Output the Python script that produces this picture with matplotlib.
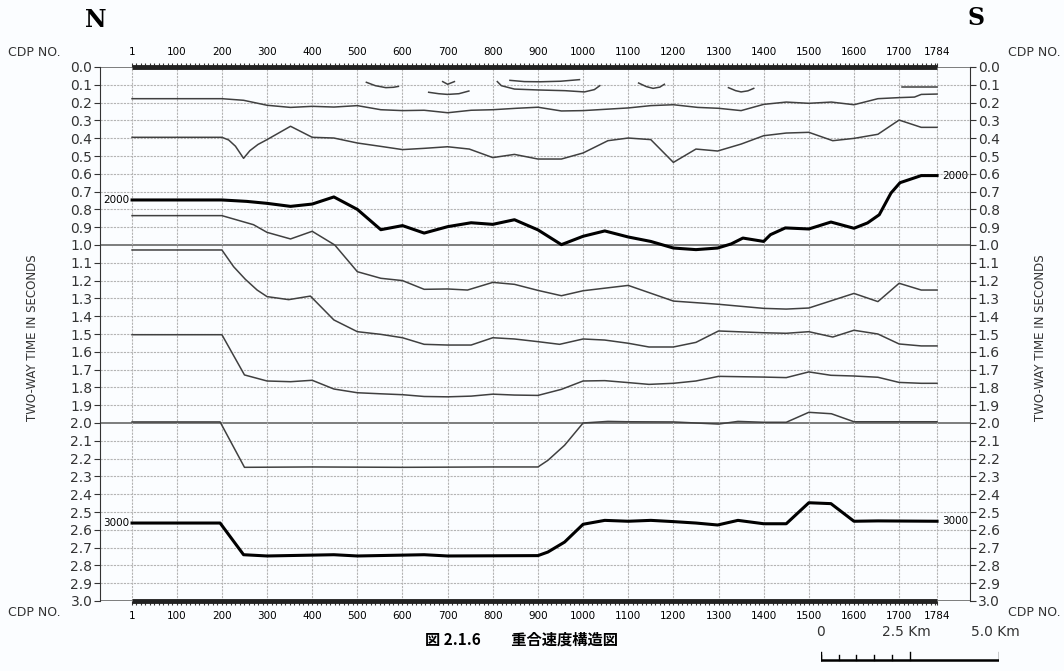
import matplotlib
matplotlib.use("Agg")
import matplotlib.pyplot as plt
import numpy as np

plt.rcParams['font.family'] = ['DejaVu Sans', 'Noto Sans CJK JP']

# horizons: CDP number and two-way time (s)
h1_cdp = [1, 200, 248, 300, 352, 400, 448, 500, 552, 600, 648, 700, 752, 800, 852, 900, 952, 1000,
          1100, 1150, 1200, 1254, 1300, 1350, 1400, 1450, 1500, 1550, 1600, 1653, 1700, 1734, 1749, 1784]
h1_t = [0.178, 0.178, 0.187, 0.215, 0.227, 0.221, 0.225, 0.217, 0.240, 0.245, 0.243, 0.257, 0.243, 0.240,
        0.232, 0.226, 0.247, 0.245, 0.230, 0.217, 0.212, 0.227, 0.232, 0.245, 0.210, 0.197, 0.204, 0.197,
        0.212, 0.178, 0.172, 0.169, 0.154, 0.152]

h2_cdp = [1, 200, 215, 230, 248, 262, 280, 300, 352, 400, 448, 500, 552, 600, 648, 700, 748, 800, 848,
          900, 952, 1000, 1055, 1100, 1150, 1200, 1250, 1298, 1350, 1400, 1450, 1500, 1553, 1600, 1653,
          1700, 1749, 1784]
h2_t = [0.395, 0.395, 0.41, 0.445, 0.513, 0.47, 0.435, 0.408, 0.333, 0.395, 0.399, 0.427, 0.446, 0.464,
        0.457, 0.448, 0.461, 0.509, 0.491, 0.517, 0.517, 0.483, 0.414, 0.399, 0.408, 0.536, 0.461, 0.472,
        0.433, 0.386, 0.371, 0.367, 0.414, 0.401, 0.378, 0.298, 0.339, 0.339]

v2000_cdp = [1, 200, 255, 300, 352, 400, 448, 500, 552, 600, 648, 700, 752, 800, 848, 900, 952, 1000,
             1048, 1100, 1150, 1200, 1250, 1298, 1328, 1354, 1400, 1415, 1448, 1500, 1549, 1600, 1630,
             1656, 1682, 1702, 1749, 1784]
v2000_t = [0.747, 0.747, 0.755, 0.766, 0.783, 0.770, 0.730, 0.800, 0.914, 0.891, 0.933, 0.897, 0.875,
           0.884, 0.858, 0.915, 0.998, 0.951, 0.921, 0.955, 0.980, 1.017, 1.026, 1.017, 0.994, 0.961,
           0.980, 0.942, 0.904, 0.910, 0.871, 0.906, 0.876, 0.830, 0.708, 0.650, 0.610, 0.610]

h4_cdp = [1, 200, 270, 300, 352, 400, 450, 500, 552, 600, 648, 700, 744, 800, 848, 900, 952, 1000,
          1100, 1200, 1300, 1400, 1450, 1500, 1600, 1653, 1700, 1749, 1784]
h4_t = [0.835, 0.835, 0.886, 0.929, 0.966, 0.923, 1.0, 1.15, 1.187, 1.2, 1.249, 1.247, 1.253, 1.21,
        1.221, 1.255, 1.285, 1.257, 1.227, 1.315, 1.333, 1.356, 1.36, 1.354, 1.272, 1.318, 1.215, 1.253,
        1.253]

h5_cdp = [1, 200, 226, 252, 278, 300, 348, 396, 448, 500, 552, 600, 648, 700, 752, 800, 848, 900, 948,
          1000, 1048, 1100, 1146, 1200, 1250, 1300, 1400, 1450, 1500, 1553, 1600, 1653, 1700, 1749, 1784]
h5_t = [1.028, 1.028, 1.122, 1.193, 1.253, 1.29, 1.307, 1.287, 1.421, 1.487, 1.502, 1.521, 1.558,
        1.562, 1.562, 1.521, 1.528, 1.543, 1.558, 1.528, 1.534, 1.552, 1.573, 1.573, 1.547, 1.483,
        1.493, 1.496, 1.487, 1.517, 1.479, 1.5, 1.556, 1.567, 1.567]

h6_cdp = [1, 200, 250, 300, 352, 400, 448, 500, 552, 600, 648, 700, 752, 800, 848, 900, 952, 1000,
          1048, 1100, 1146, 1200, 1250, 1300, 1400, 1450, 1500, 1549, 1600, 1653, 1700, 1749, 1784]
h6_t = [1.504, 1.504, 1.73, 1.764, 1.768, 1.76, 1.809, 1.83, 1.836, 1.841, 1.851, 1.853, 1.849, 1.838,
        1.843, 1.845, 1.811, 1.764, 1.762, 1.773, 1.783, 1.777, 1.764, 1.738, 1.742, 1.745, 1.713,
        1.732, 1.736, 1.743, 1.772, 1.777, 1.777]

h7_cdp = [1, 196, 250, 400, 600, 800, 900, 922, 959, 1000, 1055, 1100, 1200, 1300, 1343, 1400, 1450,
          1500, 1550, 1600, 1700, 1784]
h7_t = [1.994, 1.994, 2.249, 2.247, 2.249, 2.247, 2.247, 2.21, 2.125, 2.0, 1.991, 1.993, 1.994, 2.006,
        1.991, 1.996, 1.996, 1.94, 1.948, 1.993, 1.993, 1.993]

v3000_cdp = [1, 196, 248, 300, 448, 500, 648, 700, 900, 922, 959, 1000, 1048, 1100, 1150, 1200, 1250,
             1298, 1343, 1400, 1450, 1500, 1549, 1600, 1653, 1784]
v3000_t = [2.562, 2.562, 2.74, 2.747, 2.74, 2.747, 2.74, 2.747, 2.745, 2.725, 2.669, 2.569, 2.547,
           2.552, 2.547, 2.554, 2.562, 2.573, 2.547, 2.566, 2.566, 2.448, 2.453, 2.552, 2.55, 2.552]

# short reflector segments near the surface
seg_cdp = [[520, 540, 563, 580, 591], [689, 700, 715], [658, 680, 700, 725, 747],
           [810, 819, 848, 900, 960, 1003, 1025, 1037], [838, 870, 905, 950, 992],
           [1123, 1140, 1155, 1170, 1180], [1322, 1338, 1350, 1365, 1378], [1706, 1784]]
seg_t = [[0.086, 0.105, 0.116, 0.114, 0.109], [0.082, 0.097, 0.082], [0.142, 0.150, 0.154, 0.150, 0.135],
         [0.082, 0.105, 0.124, 0.129, 0.133, 0.140, 0.127, 0.105], [0.075, 0.082, 0.083, 0.080, 0.071],
         [0.090, 0.110, 0.120, 0.113, 0.097], [0.116, 0.133, 0.140, 0.134, 0.120], [0.114, 0.114]]

cdp_ticks = [1, 100, 200, 300, 400, 500, 600, 700, 800, 900, 1000, 1100, 1200, 1300, 1400, 1500, 1600,
             1700, 1784]
time_ticks = np.round(np.arange(0, 3.01, 0.1), 1)
scale_km = [0, 2.5, 5.0]

fig = plt.figure(figsize=(10.64, 6.71), dpi=100)
fig.patch.set_facecolor('#fbfdff')
ax = fig.add_axes([100 / 1064, 1 - 601 / 671, 870 / 1064, 534 / 671])
ax.set_facecolor('#fbfdff')
ax.set_xlim(-70, 1857)
ax.set_ylim(3.0, 0.0)

# grid
for t in time_ticks:
    if t in (0.0, 1.0, 2.0, 3.0):
        ax.axhline(t, color='#5a5a5a', lw=1.1, zorder=1)
    else:
        ax.axhline(t, color='#b4b4b4', lw=0.8, ls=(0, (2, 1)), zorder=1)
for c in cdp_ticks:
    ax.axvline(c, color='#b4b4b4', lw=0.8, ls=(0, (2, 1)), zorder=1)

thin = dict(color='#404040', lw=1.1, zorder=3)
thick = dict(color='black', lw=2.2, zorder=4)
ax.plot(h1_cdp, h1_t, **thin)
ax.plot(h2_cdp, h2_t, **thin)
ax.plot(v2000_cdp, v2000_t, **thick)
ax.plot(h4_cdp, h4_t, **thin)
ax.plot(h5_cdp, h5_t, **thin)
ax.plot(h6_cdp, h6_t, **thin)
ax.plot(h7_cdp, h7_t, **thin)
ax.plot(v3000_cdp, v3000_t, **thick)
for xs, ts in zip(seg_cdp, seg_t):
    ax.plot(xs, ts, **thin)

# thick CDP bars
ax.plot([1, 1784], [0, 0], color='#222222', lw=3.5, solid_capstyle='butt', clip_on=False, zorder=5)
ax.plot([1, 1784], [3, 3], color='#222222', lw=3.5, solid_capstyle='butt', clip_on=False, zorder=5)

ax.text(-5, v2000_t[0], '2000', ha='right', va='center', fontsize=7.5,
        bbox=dict(fc='#fbfdff', ec='none', pad=0.5), zorder=6)
ax.text(1795, v2000_t[-1], '2000', ha='left', va='center', fontsize=7.5, zorder=6)
ax.text(-5, v3000_t[0], '3000', ha='right', va='center', fontsize=7.5,
        bbox=dict(fc='#fbfdff', ec='none', pad=0.5), zorder=6)
ax.text(1795, v3000_t[-1], '3000', ha='left', va='center', fontsize=7.5, zorder=6)

# axes / ticks
for s in ('top', 'bottom'):
    ax.spines[s].set_visible(False)
ax.spines['left'].set_color('#333333')
ax.spines['right'].set_color('#333333')
ax.set_xticks(cdp_ticks)
ax.set_xticklabels([str(c) for c in cdp_ticks])
ax.set_xticks(np.arange(10, 1784, 10), minor=True)
ax.tick_params(axis='x', which='both', top=True, bottom=True, labeltop=True, labelbottom=True,
               direction='out', length=3, width=0.8, color='#333333', labelsize=7.5, pad=4)
ax.set_yticks(time_ticks)
ax.set_yticklabels([f'{t:.1f}' for t in time_ticks])
ax.tick_params(axis='y', left=True, right=True, labelleft=True, labelright=True,
               direction='out', length=4, width=0.8, labelsize=10, pad=1.5, colors='#333333')

fig.text(8 / 1064, 1 - 52 / 671, 'CDP NO.', fontsize=9, va='center', ha='left', color='#333333')
fig.text(1008 / 1064, 1 - 52 / 671, 'CDP NO.', fontsize=9, va='center', ha='left', color='#333333')
fig.text(8 / 1064, 1 - 613 / 671, 'CDP NO.', fontsize=9, va='center', ha='left', color='#333333')
fig.text(1008 / 1064, 1 - 613 / 671, 'CDP NO.', fontsize=9, va='center', ha='left', color='#333333')
fig.text(33 / 1064, 1 - 338 / 671, 'TWO-WAY TIME IN SECONDS', rotation=90, fontsize=8.5,
         ha='center', va='center', color='#333333')
fig.text(1040 / 1064, 1 - 338 / 671, 'TWO-WAY TIME IN SECONDS', rotation=90, fontsize=8.5,
         ha='center', va='center', color='#333333')

fig.text(96 / 1064, 1 - 20 / 671, 'N', family='DejaVu Serif', fontsize=17, fontweight='bold',
         ha='center', va='center')
fig.text(976 / 1064, 1 - 18 / 671, 'S', family='DejaVu Serif', fontsize=17, fontweight='bold',
         ha='center', va='center')

fig.text(425 / 1064, 1 - 640 / 671, '図 2.1.6　　重合速度構造図', family=['Noto Sans CJK JP'],
         fontsize=11, fontweight='bold', ha='left', va='center')

# scale bar
sax = fig.add_axes([820.7 / 1064, 1 - 668 / 671, 178.3 / 1064, 40 / 671])
sax.set_xlim(0, 5)
sax.set_ylim(0, 1)
sax.axis('off')
sax.plot([0, 5], [0.2, 0.2], color='black', lw=1.8)
for k in np.arange(0, 2.5, 0.5):
    sax.plot([k, k], [0.2, 0.32], color='black', lw=1)
for k in scale_km:
    sax.plot([k, k], [0.2, 0.4], color='black', lw=1)
sax.text(0, 0.9, '0', ha='center', va='center', fontsize=10, color='#333333')
sax.text(2.4, 0.9, '2.5 Km', ha='center', va='center', fontsize=10, color='#333333')
sax.text(4.9, 0.9, '5.0 Km', ha='center', va='center', fontsize=10, color='#333333')

fig.savefig('out.png', dpi=100, facecolor=fig.get_facecolor())
